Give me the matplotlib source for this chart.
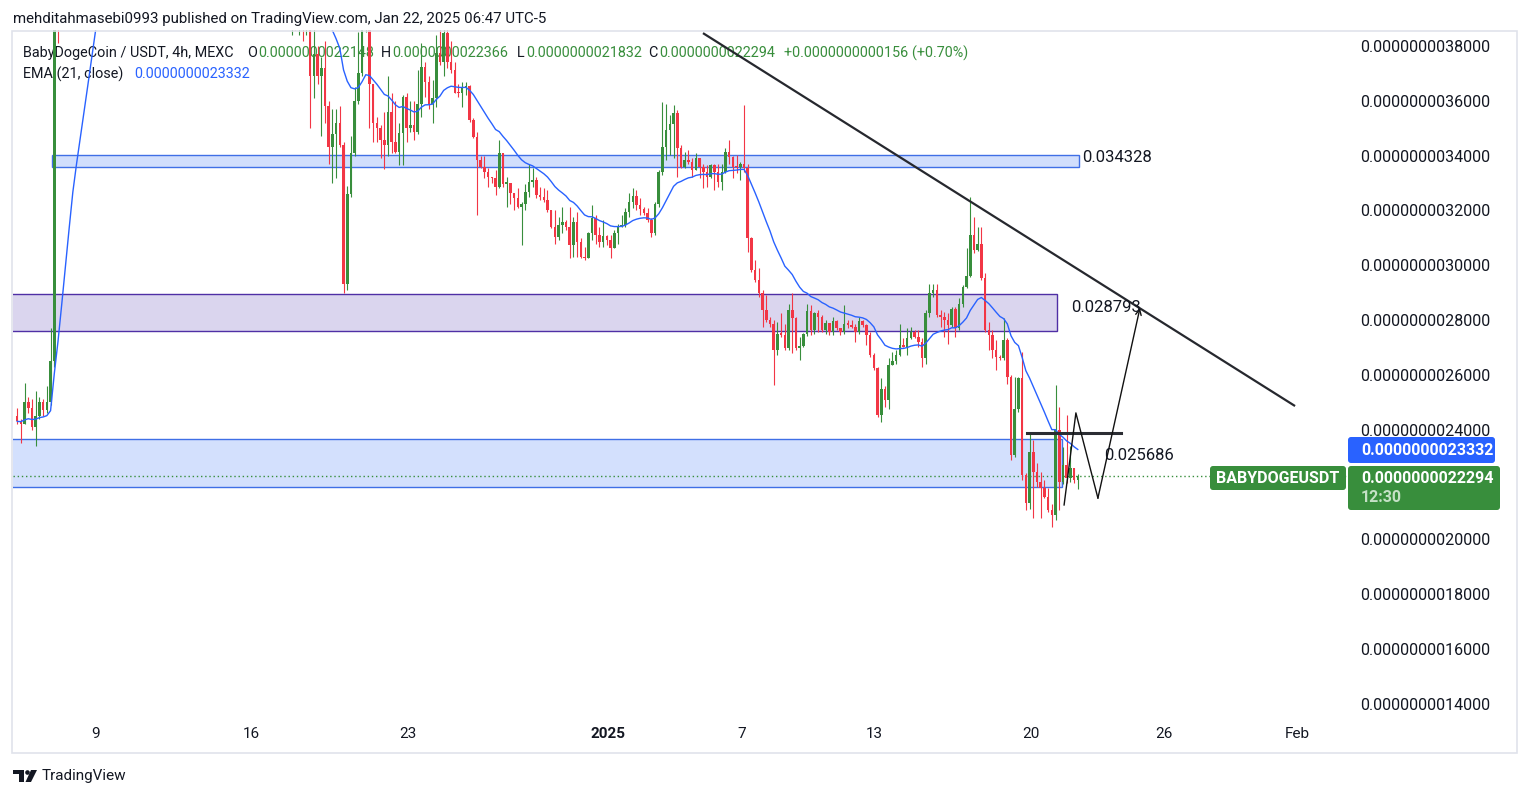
import numpy as np
import pandas as pd
import matplotlib
matplotlib.use("Agg")
import matplotlib.pyplot as plt
from matplotlib.patches import Rectangle, FancyBboxPatch, Polygon, Circle

plt.rcParams['font.family'] = ['Roboto', 'DejaVu Sans']

W, H = 1530, 798

# BABYDOGE/USDT 4h candles, prices in units of 1e-9 USDT
first_open = 2.45
closes = [
    2.43, 2.42, 2.50, 2.48, 2.41, 2.45, 2.50, 2.47, 2.50, 2.65,
    3.95, 3.90, 4.20, 4.40, 4.50, 4.60, 4.40, 4.40, 4.50, 4.60, 4.70, 4.80,
    4.90, 5.10, 5.00, 4.80, 4.90, 5.20, 5.00, 4.70, 4.60, 4.80, 4.70, 4.50,
    4.40, 4.60, 4.50, 4.30, 4.40, 4.60, 4.80, 4.70, 4.50, 4.40, 4.30, 4.40,
    4.50, 4.30, 4.20, 4.40, 4.50, 4.30, 4.20, 4.10, 4.30, 4.40, 4.20, 4.10,
    4.30, 4.40, 4.20, 4.30, 4.20, 4.10, 4.20, 4.30, 4.10, 4.20, 4.00, 4.10,
    4.00, 4.10, 4.05, 3.95, 4.00, 3.98, 4.02, 3.97, 3.99,
    3.69, 3.77, 3.69, 3.72, 3.58, 3.43, 3.48, 3.52, 3.44, 2.93, 3.26, 3.41,
    3.60, 3.70, 3.88, 3.95, 3.66,
    3.52, 3.50, 3.457, 3.438, 3.56, 3.45, 3.414, 3.481, 3.615, 3.50, 3.51, 3.487,
    3.59, 3.724, 3.67, 3.59, 3.61, 3.773, 3.742, 3.846, 3.742, 3.712, 3.63, 3.627,
    3.645, 3.654, 3.53, 3.469, 3.383, 3.36, 3.341, 3.323, 3.317, 3.284, 3.408, 3.298,
    3.30, 3.262, 3.244, 3.213, 3.225, 3.268, 3.304, 3.31, 3.256, 3.25, 3.238, 3.201,
    3.14,
    3.104, 3.146, 3.159, 3.14, 3.073, 3.159, 3.086, 3.031, 3.025, 3.116, 3.171, 3.11,
    3.086, 3.106, 3.092, 3.061, 3.116, 3.14, 3.146, 3.195, 3.231, 3.252, 3.219, 3.205,
    3.189, 3.165, 3.116, 3.225, 3.341, 3.432, 3.493, 3.517, 3.554, 3.426, 3.359, 3.384,
    3.378, 3.347, 3.39, 3.359, 3.341, 3.323, 3.365, 3.341, 3.304, 3.341, 3.414, 3.396,
    3.359,
    3.357, 3.371, 3.353, 3.098, 2.982, 2.946, 2.897, 2.836, 2.80, 2.787, 2.69, 2.748,
    2.745, 2.696, 2.836, 2.806, 2.696, 2.705, 2.748, 2.834, 2.763, 2.824, 2.812, 2.763,
    2.79, 2.757, 2.796, 2.769, 2.757, 2.787, 2.783, 2.775, 2.757, 2.796, 2.781, 2.745,
    2.672, 2.623, 2.453, 2.55, 2.508, 2.635, 2.65, 2.672, 2.708, 2.702, 2.733, 2.757,
    2.739, 2.72, 2.66, 2.824, 2.897, 2.909, 2.818, 2.812, 2.80, 2.781, 2.839, 2.769,
    2.858, 2.921, 2.96, 3.11, 3.055, 3.077, 2.952, 2.763, 2.745, 2.69, 2.666, 2.66,
    2.727, 2.593, 2.307, 2.477, 2.587, 2.234, 2.131, 2.319, 2.246, 2.21, 2.186, 2.155,
    2.106, 2.088, 2.398, 2.21, 2.27, 2.222, 2.26, 2.2148, 2.2294,
]
highs = [
    2.48, 2.44, 2.57, 2.52, 2.51, 2.54, 2.52, 2.51, 2.56, 2.77,
    4.10, 4.05, 4.30, 4.50, 4.65, 4.75, 4.70, 4.55, 4.60, 4.75, 4.85, 4.95,
    5.05, 5.25, 5.20, 5.05, 5.00, 5.35, 5.25, 5.05, 4.80, 4.90, 4.90, 4.75,
    4.55, 4.70, 4.70, 4.55, 4.50, 4.70, 4.90, 4.90, 4.75, 4.55, 4.45, 4.50,
    4.60, 4.55, 4.35, 4.50, 4.60, 4.55, 4.35, 4.25, 4.40, 4.50, 4.45, 4.25,
    4.40, 4.50, 4.45, 4.40, 4.35, 4.25, 4.30, 4.40, 4.35, 4.30, 4.25, 4.20,
    4.15, 4.20, 4.15, 4.10, 4.10, 4.08, 4.10, 4.08, 4.05,
    4.02, 3.90, 3.80, 3.76, 3.82, 3.60, 3.57, 3.57, 3.58, 3.45, 3.29, 3.47,
    3.65, 3.85, 3.95, 4.05, 3.98,
    3.66, 3.54, 3.51, 3.56, 3.69, 3.63, 3.60, 3.52, 3.62, 3.63, 3.60, 3.60,
    3.712, 3.81, 3.74, 3.69, 3.675, 3.84, 3.87, 3.90, 3.90, 3.82, 3.74, 3.66,
    3.67, 3.67, 3.657, 3.536, 3.487, 3.40, 3.40, 3.353, 3.323, 3.347, 3.457, 3.408,
    3.323, 3.298, 3.262, 3.28, 3.23, 3.298, 3.371, 3.353, 3.323, 3.286, 3.28, 3.274,
    3.20,
    3.201, 3.177, 3.213, 3.165, 3.213, 3.177, 3.195, 3.098, 3.067, 3.122, 3.219, 3.183,
    3.14, 3.165, 3.11, 3.11, 3.128, 3.152, 3.183, 3.207, 3.262, 3.28, 3.274, 3.244,
    3.213, 3.207, 3.171, 3.23, 3.347, 3.596, 3.59, 3.548, 3.584, 3.566, 3.438, 3.414,
    3.42, 3.39, 3.408, 3.39, 3.371, 3.365, 3.371, 3.371, 3.371, 3.371, 3.426, 3.457,
    3.40,
    3.402, 3.377, 3.584, 3.371, 3.104, 3.019, 2.988, 2.909, 2.891, 2.812, 2.80, 2.793,
    2.824, 2.787, 2.86, 2.897, 2.812, 2.739, 2.751, 2.86, 2.854, 2.83, 2.836, 2.818,
    2.80, 2.78, 2.812, 2.80, 2.77, 2.854, 2.80, 2.80, 2.787, 2.812, 2.80, 2.787,
    2.757, 2.678, 2.629, 2.587, 2.56, 2.66, 2.684, 2.69, 2.787, 2.733, 2.769, 2.775,
    2.763, 2.763, 2.733, 2.836, 2.933, 2.933, 2.933, 2.836, 2.83, 2.824, 2.848, 2.848,
    2.879, 2.927, 3.061, 3.25, 3.177, 3.14, 3.14, 2.97, 2.794, 2.763, 2.727, 2.672,
    2.806, 2.733, 2.60, 2.593, 2.593, 2.684, 2.24, 2.386, 2.362, 2.277, 2.246, 2.216,
    2.186, 2.13, 2.562, 2.483, 2.337, 2.453, 2.34, 2.24, 2.2366,
]
lows = [
    2.42, 2.35, 2.42, 2.46, 2.40, 2.34, 2.44, 2.45, 2.46, 2.49,
    2.63, 3.81, 3.88, 4.15, 4.30, 4.40, 4.30, 4.25, 4.35, 4.45, 4.55, 4.65,
    4.75, 4.85, 4.90, 4.70, 4.75, 4.85, 4.90, 4.60, 4.50, 4.55, 4.60, 4.40,
    4.30, 4.35, 4.40, 4.20, 4.25, 4.35, 4.55, 4.60, 4.40, 4.30, 4.15, 4.25,
    4.35, 4.20, 4.10, 4.15, 4.35, 4.20, 4.10, 4.00, 4.05, 4.25, 4.10, 4.00,
    4.05, 4.25, 4.10, 4.15, 4.10, 4.00, 4.05, 4.15, 4.00, 4.05, 3.92, 3.95,
    3.90, 3.92, 3.95, 3.88, 3.84, 3.86, 3.84, 3.82, 3.84,
    3.50, 3.61, 3.66, 3.47, 3.52, 3.37, 3.30, 3.32, 3.43, 2.90, 2.91, 3.25,
    3.40, 3.59, 3.69, 3.85, 3.50,
    3.45, 3.45, 3.39, 3.35, 3.40, 3.41, 3.41, 3.365, 3.365, 3.45, 3.487, 3.457,
    3.48, 3.54, 3.615, 3.57, 3.52, 3.578, 3.73, 3.69, 3.72, 3.70, 3.63, 3.615,
    3.578, 3.62, 3.523, 3.463, 3.183, 3.353, 3.317, 3.286, 3.30, 3.256, 3.28, 3.286,
    3.213, 3.225, 3.20, 3.207, 3.073, 3.20, 3.25, 3.286, 3.244, 3.238, 3.23, 3.195,
    3.134,
    3.079, 3.092, 3.116, 3.128, 3.025, 3.031, 3.031, 3.025, 3.019, 3.025, 3.092, 3.079,
    3.067, 3.067, 3.073, 3.025, 3.061, 3.079, 3.14, 3.14, 3.177, 3.207, 3.201, 3.183,
    3.183, 3.159, 3.104, 3.11, 3.213, 3.329, 3.384, 3.402, 3.39, 3.323, 3.353, 3.353,
    3.371, 3.323, 3.347, 3.317, 3.28, 3.286, 3.317, 3.274, 3.286, 3.274, 3.335, 3.371,
    3.317,
    3.335, 3.311, 3.341, 3.049, 2.976, 2.94, 2.885, 2.775, 2.793, 2.775, 2.562, 2.672,
    2.739, 2.69, 2.69, 2.678, 2.69, 2.654, 2.70, 2.74, 2.745, 2.75, 2.757, 2.757,
    2.75, 2.745, 2.745, 2.763, 2.745, 2.75, 2.77, 2.77, 2.72, 2.75, 2.775, 2.708,
    2.665, 2.617, 2.447, 2.428, 2.483, 2.477, 2.635, 2.64, 2.67, 2.70, 2.672, 2.73,
    2.733, 2.702, 2.629, 2.641, 2.812, 2.885, 2.812, 2.775, 2.739, 2.714, 2.775, 2.739,
    2.763, 2.848, 2.915, 2.958, 3.043, 3.05, 2.946, 2.757, 2.69, 2.66, 2.617, 2.655,
    2.655, 2.568, 2.289, 2.30, 2.465, 2.216, 2.106, 2.112, 2.076, 2.19, 2.076, 2.15,
    2.10, 2.045, 2.07, 2.106, 2.20, 2.205, 2.21, 2.205, 2.1832,
]
last_candle = "2025-01-22 03:00"
ema_value = 2.3332
last_price = 2.2294

# drawn levels (price units of 1e-9, x in days since Dec 9)
upper_zone = (3.358, 3.402)
mid_zone = (2.760, 2.895)
low_zone = (2.191, 2.366)
trend_pts = ([27.28, 53.89], [3.847, 2.486])
path_pts = ([43.51, 44.04, 45.03], [2.125, 2.461, 2.150])
arrow_tip = (46.92, 2.844)
break_level = 2.386

price_ticks = [1.4, 1.6, 1.8, 2.0, 2.4, 2.6, 2.8, 3.0, 3.2, 3.4, 3.6, 3.8]
day_ticks = [0, 7, 14, 23, 29, 35, 42, 48, 54]
day_labels = ['9', '16', '23', '2025', '7', '13', '20', '26', 'Feb']

UP = '#388e3c'
DOWN = '#f23645'
BLUE = '#2962ff'
TXT = '#131722'

assert len(closes) == len(highs) == len(lows)

times = pd.date_range(end=last_candle, periods=len(closes), freq='4h')
t = ((times - pd.Timestamp('2024-12-09')) / pd.Timedelta(days=1)).values

c = np.array(closes)
o = np.concatenate([[first_open], c[:-1]])
hi = np.maximum(np.array(highs), np.maximum(o, c))
lo = np.minimum(np.array(lows), np.minimum(o, c))
ema = pd.Series(closes).ewm(span=21, adjust=False).mean().values

fig = plt.figure(figsize=(W / 100, H / 100), dpi=100)
fig.patch.set_facecolor('white')

px_day = 22.25
x0_day = (13 - 96) / px_day
x1_day = (1347 - 96) / px_day
def yval(py):
    return 3.8 - (py - 46) / 274.0

ax = fig.add_axes([13 / W, 1 - 753 / H, (1347 - 13) / W, (753 - 30) / H])
ax.set_xlim(x0_day, x1_day)
ax.set_ylim(yval(753), yval(30))
for s in ax.spines.values():
    s.set_visible(False)
ax.set_xticks([])
ax.yaxis.tick_right()
ax.set_yticks(price_ticks)
ax.set_yticklabels([f"{v * 1e-9:.13f}" for v in price_ticks])
ax.tick_params(axis='y', length=0, pad=9.5, labelsize=11.5, labelcolor=TXT)

# zones
ax.add_patch(Rectangle((-1.98, upper_zone[0]), 44.18 + 1.98, upper_zone[1] - upper_zone[0],
                       facecolor='#d1defc', edgecolor='#3f6fe6', lw=1.0, zorder=1))
ax.add_patch(Rectangle((-6, mid_zone[0]), 43.19 + 6, mid_zone[1] - mid_zone[0],
                       facecolor='#dad5ee', edgecolor='#4f2fa5', lw=1.0, zorder=1))
ax.add_patch(Rectangle((-6, low_zone[0]), 43.42 + 6, low_zone[1] - low_zone[0],
                       facecolor='#d3e0fd', edgecolor='#3f6fe6', lw=1.0, zorder=1))

# legend texts (under the candles)
def fxy(px, py):
    return px / W, 1 - py / H
leg = [
    (23, 53, "BabyDogeCoin / USDT, 4h, MEXC", TXT),
    (247, 53, "O", TXT), (258, 53, "0.0000000022148", UP),
    (381, 53, "H", TXT), (392, 53, "0.0000000022366", UP),
    (517, 53, "L", TXT), (526, 53, "0.0000000021832", UP),
    (648, 53, "C", TXT), (659, 53, "0.0000000022294", UP),
    (784, 53, "+0.0000000000156 (+0.70%)", UP),
    (23, 74, "EMA (21, close)", TXT), (134, 74, "0.0000000023332", BLUE),
]
for px, py, s, col in leg:
    ax.text(*fxy(px, py), s, transform=fig.transFigure, fontsize=10.4, color=col,
            va='center', ha='left', zorder=0.5)

# candles
up = c >= o
cols = np.where(up, UP, DOWN)
ax.vlines(t, lo, hi, colors=cols, lw=0.8, zorder=3)
ax.bar(t, np.maximum(np.abs(c - o), 0.006), width=0.115, bottom=np.minimum(o, c),
       color=cols, linewidth=0, zorder=4)

ax.plot(t, ema, color=BLUE, lw=1.0, zorder=5)
ax.axhline(last_price, color=UP, lw=1.0, ls=(0, (1, 2)), zorder=2)

# drawings
ax.plot(*trend_pts, color='#26282e', lw=1.6, zorder=6, solid_capstyle='butt')
ax.plot([41.84, 46.07], [break_level, break_level], color='#2b2d33', lw=2.2, zorder=6)
ax.plot(*path_pts, color='#111111', lw=1.0, zorder=6)
ax.annotate('', xy=arrow_tip, xytext=(path_pts[0][-1], path_pts[1][-1]),
            arrowprops=dict(arrowstyle='->', color='#111111', lw=1.0,
                            mutation_scale=10, shrinkA=0, shrinkB=0), zorder=6)

# overlay in pixel coordinates
ov = fig.add_axes([0, 0, 1, 1])
ov.set_xlim(0, W)
ov.set_ylim(H, 0)
ov.axis('off')
ov.patch.set_alpha(0)

ov.add_patch(Rectangle((12, 31), 1505, 722, facecolor='none', edgecolor='#e0e3eb', lw=1.2))

ov.text(13, 19, "mehditahmasebi0993 published on TradingView.com, Jan 22, 2025 06:47 UTC-5",
        fontsize=10.8, color=TXT, va='center', ha='left')

for px, py, s in [(1082, 158, "0.034328"), (1071, 307, "0.028793"), (1104, 455, "0.025686")]:
    ov.text(px, py, s, fontsize=12, color=TXT, va='center', ha='left')

for d, lab in zip(day_ticks, day_labels):
    ov.text(96 + d * px_day, 734, lab, fontsize=11, color=TXT, ha='center', va='center',
            fontweight='bold' if lab == '2025' else 'normal')

# price badges
ov.add_patch(FancyBboxPatch((1348, 437), 147, 26, boxstyle='round,pad=0,rounding_size=3',
                            facecolor=BLUE, edgecolor='none'))
ov.text(1361, 450.5, f"{ema_value * 1e-9:.13f}", fontsize=11.5, color='white',
        fontweight='bold', va='center', ha='left')
ov.add_patch(FancyBboxPatch((1348, 466), 152, 44, boxstyle='round,pad=0,rounding_size=3',
                            facecolor=UP, edgecolor='none'))
ov.text(1361, 478.5, f"{last_price * 1e-9:.13f}", fontsize=11.5, color='white',
        fontweight='bold', va='center', ha='left')
ov.text(1361, 497.5, "12:30", fontsize=11.5, color='#c5e1c6', fontweight='bold',
        va='center', ha='left')
ov.add_patch(FancyBboxPatch((1210, 466), 136, 24, boxstyle='round,pad=0,rounding_size=3',
                            facecolor=UP, edgecolor='none'))
ov.text(1278, 478.5, "BABYDOGEUSDT", fontsize=11.5, color='white', fontweight='bold',
        va='center', ha='center')

# footer logo
ov.add_patch(Polygon([(13, 770), (24, 770), (24, 782), (19, 782), (19, 774), (13, 774)],
                     closed=True, facecolor=TXT, edgecolor='none'))
ov.add_patch(Circle((27.5, 772.5), 2.3, facecolor=TXT, edgecolor='none'))
ov.add_patch(Polygon([(31, 770), (37, 770), (31, 782), (25.5, 782)], closed=True,
                     facecolor=TXT, edgecolor='none'))
ov.text(42, 776, "TradingView", fontsize=11, color=TXT, va='center', ha='left')

fig.savefig('out.png', dpi=100, facecolor='white')
